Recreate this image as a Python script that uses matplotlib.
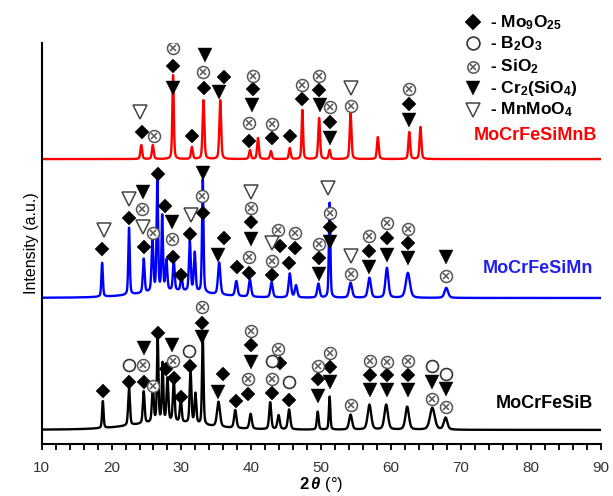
import numpy as np
import matplotlib
matplotlib.use('Agg')
import matplotlib.pyplot as plt
from matplotlib.ticker import MultipleLocator

plt.rcParams['font.family'] = 'Liberation Sans'
plt.rcParams['mathtext.fontset'] = 'custom'
plt.rcParams['mathtext.rm'] = 'Liberation Sans:bold'
plt.rcParams['mathtext.it'] = 'Liberation Sans:bold:italic'
plt.rcParams['mathtext.bf'] = 'Liberation Sans:bold'

# ---- peaks (2theta, height above baseline, fwhm) ----
red_base = 285
red_pos = [24.25, 25.9, 28.8, 31.5, 33.15, 35.55, 39.8, 40.95, 42.8, 45.5, 47.3, 49.7, 51.2, 54.2, 58.1, 62.6, 64.2]
red_hgt = [14, 14, 84, 12, 59, 59, 9, 21, 8, 11, 49, 41, 9, 46, 22, 27, 32]
red_fw = [0.3, 0.3, 0.25, 0.3, 0.3, 0.3, 0.3, 0.3, 0.3, 0.3, 0.25, 0.3, 0.3, 0.3, 0.3, 0.3, 0.3]

blue_base = 146
blue_pos = [18.65, 22.5, 24.6, 25.85, 26.55, 27.25, 27.85, 28.9, 30.0, 31.2, 31.9, 33.05, 35.4, 37.85,
            39.8, 42.9, 45.5, 46.4, 49.6, 51.2, 54.2, 56.9, 59.4, 62.4, 67.9, 29.0]
blue_hgt = [34, 67, 34, 52, 114, 75, 30, 30, 15, 50, 39, 114, 32, 15,
            17, 15, 24, 12, 14, 95, 15, 20, 30, 25, 10, 7]
blue_fw = [0.25, 0.25, 0.3, 0.3, 0.25, 0.25, 0.3, 0.3, 0.3, 0.3, 0.3, 0.25, 0.4, 0.4,
           0.4, 0.4, 0.4, 0.4, 0.4, 0.25, 0.5, 0.5, 0.5, 0.7, 0.6, 12.0]

black_base = 14
black_pos = [18.75, 22.5, 24.6, 25.9, 26.6, 27.3, 28.0, 28.9, 29.9, 31.3, 32.0, 33.05, 35.3, 37.7,
             39.9, 42.7, 43.9, 45.4, 49.5, 51.2, 54.2, 56.9, 59.3, 62.3, 65.9, 67.8, 28.0]
black_hgt = [27, 38, 32, 35, 85, 58, 43, 42, 23, 52, 30, 90, 25, 18,
             15, 27, 14, 20, 18, 33, 15, 25, 25, 23, 22, 12, 8]
black_fw = [0.25, 0.3, 0.3, 0.3, 0.25, 0.25, 0.3, 0.3, 0.3, 0.3, 0.3, 0.25, 0.5, 0.4,
            0.4, 0.35, 0.4, 0.4, 0.3, 0.25, 0.5, 0.6, 0.6, 0.6, 0.8, 0.6, 12.0]

# ---- phase markers (2theta, intensity position) ----
# MoCrFeSiMnB
r_dia_x = [24.3, 28.8, 31.5, 33.2, 36.1, 40.2, 39.6, 42.9, 45.5, 47.2, 49.7, 51.25, 62.55]
r_dia_y = [312, 378, 308, 356, 367, 355, 303, 306, 308, 345, 354, 322, 340]
r_six_x = [26.1, 28.75, 33.1, 40.2, 39.6, 42.9, 47.2, 49.7, 51.25, 54.25, 62.55]
r_six_y = [308, 396, 372, 368, 321, 320, 359, 368, 337, 338, 355]
r_tri_x = [28.8, 33.35, 35.35, 40.15, 49.8, 51.25, 62.55]
r_tri_y = [356, 389, 352, 339, 339, 306, 324]
r_otri_x = [24.1, 54.25]
r_otri_y = [332, 356]

# MoCrFeSiMn
b_dia_x = [18.7, 22.5, 24.6, 26.6, 27.65, 28.8, 29.9, 31.2, 33.1, 36.1, 37.9, 40.0, 39.65, 42.9,
           44.1, 45.4, 46.2, 49.7, 51.25, 56.85, 59.45, 62.45]
b_dia_y = [195, 226, 197, 270, 238, 187, 169, 210, 231, 206, 177, 222, 171, 169,
           198, 181, 196, 186, 217, 193, 206, 201]
b_six_x = [24.4, 25.9, 28.7, 33.0, 40.0, 39.65, 42.9, 43.85, 46.2, 49.7, 51.25, 54.3, 56.85, 59.45, 62.45, 67.9]
b_six_y = [235, 211, 205, 248, 236, 187, 183, 214, 211, 200, 231, 170, 208, 221, 215, 168]
b_tri_x = [24.5, 28.65, 33.1, 35.25, 40.0, 49.7, 51.25, 56.85, 59.45, 62.45, 67.9]
b_tri_y = [252, 222, 271, 189, 205, 170, 202, 177, 189, 186, 187]
b_otri_x = [18.9, 22.5, 24.55, 31.35, 40.0, 42.9, 51.0, 54.25]
b_otri_y = [214, 245, 217, 229, 252, 201, 256, 188]

# MoCrFeSiB
k_dia_x = [18.8, 22.5, 24.6, 26.7, 27.8, 28.9, 29.9, 31.2, 33.0, 36.0, 37.75, 40.0, 39.55, 43.0,
           44.1, 45.4, 49.6, 51.25, 56.95, 59.45, 62.45]
k_dia_y = [53, 62, 62, 111, 75, 66, 47, 78, 121, 70, 43, 99, 50, 51,
           81, 44, 65, 77, 69, 69, 69]
k_circ_x = [22.5, 31.1, 42.9, 45.4, 65.9, 67.8]
k_circ_y = [79, 93, 83, 62, 78, 70]
k_six_x = [24.5, 25.95, 28.8, 32.95, 40.0, 39.55, 42.9, 43.85, 49.6, 51.25, 54.3, 56.95, 59.45, 62.45, 65.9, 67.8]
k_six_y = [79, 58, 83, 137, 113, 65, 65, 95, 78, 91, 39, 83, 82, 83, 45, 37]
k_tri_x = [24.6, 28.6, 32.95, 35.25, 40.0, 49.6, 51.25, 56.95, 59.45, 62.45, 65.9, 67.8]
k_tri_y = [96, 99, 107, 52, 82, 48, 62, 54, 54, 54, 62, 55]

phases = ['- Mo$_9$O$_{25}$', '- B$_2$O$_3$', '- SiO$_2$', '- Cr$_2$(SiO$_4$)', '- MnMoO$_4$']
samples = ['MoCrFeSiMnB', 'MoCrFeSiMn', 'MoCrFeSiB']


def pattern(tt, base, pos, hgt, fw):
    y = np.full_like(tt, float(base))
    for p, h, w in zip(pos, hgt, fw):
        g = np.exp(-4 * np.log(2) * ((tt - p) / w) ** 2)
        l = 1 / (1 + 4 * ((tt - p) / w) ** 2)
        y += h * (0.6 * g + 0.4 * l)
    return y


tt = np.arange(10, 90.001, 0.02)

fig = plt.figure(figsize=(6.13, 4.96), dpi=100)
ax = fig.add_axes([0.068, 0.105, 0.912, 0.808])

ax.plot(tt, pattern(tt, red_base, red_pos, red_hgt, red_fw), color='#ff0000', lw=1.7)
ax.plot(tt, pattern(tt, blue_base, blue_pos, blue_hgt, blue_fw), color='#0000ff', lw=1.7)
ax.plot(tt, pattern(tt, black_base, black_pos, black_hgt, black_fw), color='black', lw=1.7)


def dia(x, y, ms=7.4, **kw):
    ax.plot(x, y, 'D', ms=ms, color='black', mec='black', mew=0.3, ls='none', zorder=5, **kw)


def circ(x, y, ms=8.6, **kw):
    ax.plot(x, y, 'o', ms=ms, mfc='white', mec='#333333', mew=1.2, ls='none', zorder=5, **kw)


def six(x, y, ms=8.6, **kw):
    ax.plot(x, y, 'o', ms=ms, mfc='white', mec='#555555', mew=1.1, ls='none', zorder=5, **kw)
    ax.plot(x, y, 'x', ms=ms * 0.55, mec='#555555', mew=1.1, ls='none', zorder=6, **kw)


def tri(x, y, ms=9.4, **kw):
    ax.plot(x, y, 'v', ms=ms, color='black', mec='black', mew=0.3, ls='none', zorder=5, **kw)


def otri(x, y, ms=10, **kw):
    ax.plot(x, y, 'v', ms=ms, mfc='white', mec='#444444', mew=1.1, ls='none', zorder=5, **kw)


dia(r_dia_x, r_dia_y); six(r_six_x, r_six_y); tri(r_tri_x, r_tri_y); otri(r_otri_x, r_otri_y)
dia(b_dia_x, b_dia_y); six(b_six_x, b_six_y); tri(b_tri_x, b_tri_y); otri(b_otri_x, b_otri_y)
dia(k_dia_x, k_dia_y); circ(k_circ_x, k_circ_y); six(k_six_x, k_six_y); tri(k_tri_x, k_tri_y)

# legend, drawn by hand above the axes
leg_y = [422, 401, 377, 356, 334]
dia([71.7], [leg_y[0]], ms=8, clip_on=False)
circ([71.7], [leg_y[1]], ms=9.2, clip_on=False)
six([71.7], [leg_y[2]], ms=8.2, clip_on=False)
tri([71.7], [leg_y[3]], ms=9.5, clip_on=False)
otri([71.7], [leg_y[4]], ms=9.5, clip_on=False)
for yy, t in zip(leg_y, phases):
    ax.text(74.1, yy, t, fontsize=12.5, fontweight='bold', va='center', ha='left')

# sample names
ax.text(89.45, 309, samples[0], color='#ff0000', fontsize=13, fontweight='bold', ha='right', va='center')
ax.text(88.9, 176, samples[1], color='#2020ee', fontsize=13, fontweight='bold', ha='right', va='center')
ax.text(88.9, 40, samples[2], color='black', fontsize=13, fontweight='bold', ha='right', va='center')

ax.set_xlim(10, 90)
ax.set_ylim(0, 401)
ax.set_xticks(np.arange(10, 91, 10))
ax.xaxis.set_minor_locator(MultipleLocator(2))
ax.tick_params(axis='x', which='both', direction='out', length=4, width=1.3, labelsize=11,
               pad=8, labelcolor='#333333')
ax.set_yticks([])
ax.spines['top'].set_visible(False)
ax.spines['right'].set_visible(False)
ax.spines['left'].set_linewidth(1.5)
ax.spines['bottom'].set_linewidth(1.5)
ax.set_xlabel(r'$2\,\theta$ (°)', fontsize=12, labelpad=0)
ax.set_ylabel('Intensity (a.u.)', fontsize=11.5, labelpad=2)

fig.savefig('out.png', dpi=100)
